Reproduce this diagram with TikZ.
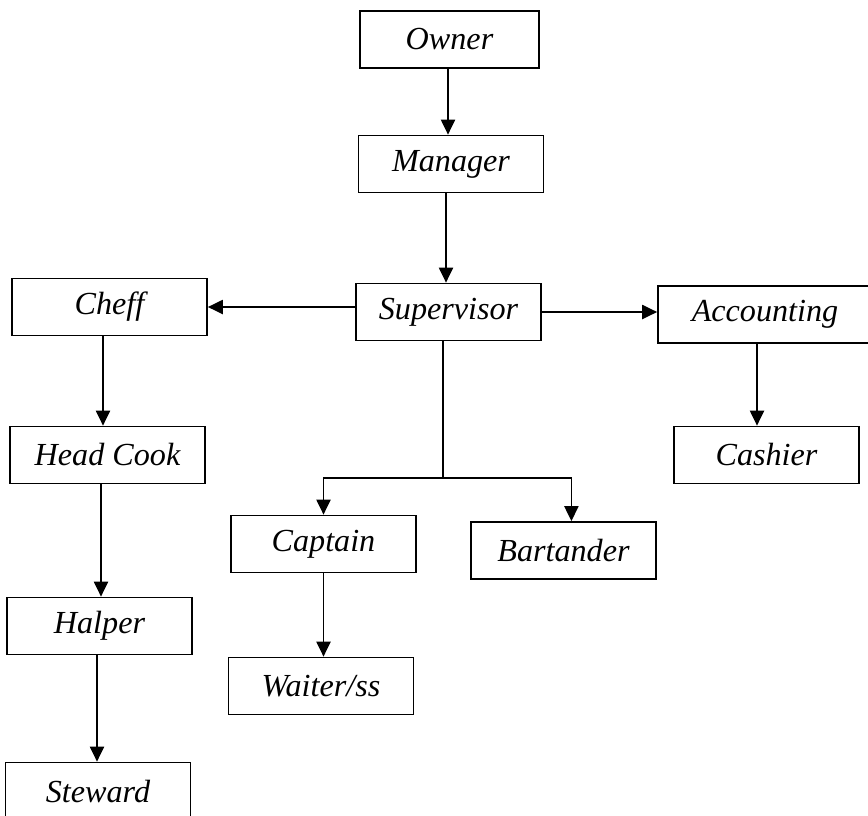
\documentclass[tikz,border=0pt]{standalone}
\usepackage{fontspec}
\setmainfont{Liberation Serif}
\usepackage{tikz}
\usetikzlibrary{positioning, arrows.meta}

\tikzset{
  post/.style={draw, line width=1pt, minimum width=3.7cm, minimum height=1.14cm, inner sep=0pt, font=\fontsize{18.3}{21}\selectfont\itshape},
  arr/.style={line width=1pt, -{Triangle[length=8.5pt,width=8pt]}},
  link/.style={line width=1pt}
}

\begin{document}
\begin{tikzpicture}[x=0.02cm, y=-0.02cm]
				\useasboundingbox (0,0) rectangle (868,815);
				%% top of the chart
				\node[post, minimum width=3.58cm] (owner) at (449.5, 39.5) {Owner};
				\node[post] (manager) at (451, 164) {Manager};
				\node[post] (super) at (448.5, 312) {Supervisor};
				%% kitchen side
				\node[post, minimum width=3.9cm] (cheff) at (109.5, 307) {Cheff};
				\node[post, minimum width=3.9cm] (headcook) at (107.5, 455) {Head Cook};
				\node[post] (halper) at (99.5, 626) {Halper};
				\node[post] (steward) at (98, 791) {Steward};
				%% accounting side
				\node[post, minimum width=4.28cm] (account) at (765, 314.5) {Accounting};
				\node[post] (cashier) at (766.5, 455) {Cashier};
				%% service
				\node[post] (captain) at (323.5, 544) {Captain};
				\node[post] (bartender) at (563.5, 550.5) {Bartander};
				\node[post] (waiter) at (321, 686) {Waiter/ss};
				\coordinate (fork) at (443, 478);

				\draw[arr] (owner.south -| 448,0) -- (manager.north -| 448,0);
				\draw[arr] (manager.south -| 446,0) -- (super.north -| 446,0);
				\draw[arr] (super.west |- cheff.east) -- (cheff.east);
				\draw[arr] (super.east) -- (super.east -| account.west);
				\draw[arr] (cheff.south -| 103,0) -- (headcook.north -| 103,0);
				\draw[arr] (headcook.south -| 101,0) -- (halper.north -| 101,0);
				\draw[arr] (halper.south -| 97,0) -- (steward.north -| 97,0);
				\draw[arr] (account.south -| 757,0) -- (cashier.north -| 757,0);
				\draw[link] (super.south -| fork) -- (fork);
				\draw[arr] (fork) -| (captain.north);
				\draw[arr] (fork) -| ([xshift=4.5]bartender.north);
				\draw[arr] (captain.south) -- (waiter.north -| captain.south);
\end{tikzpicture}
\end{document}
